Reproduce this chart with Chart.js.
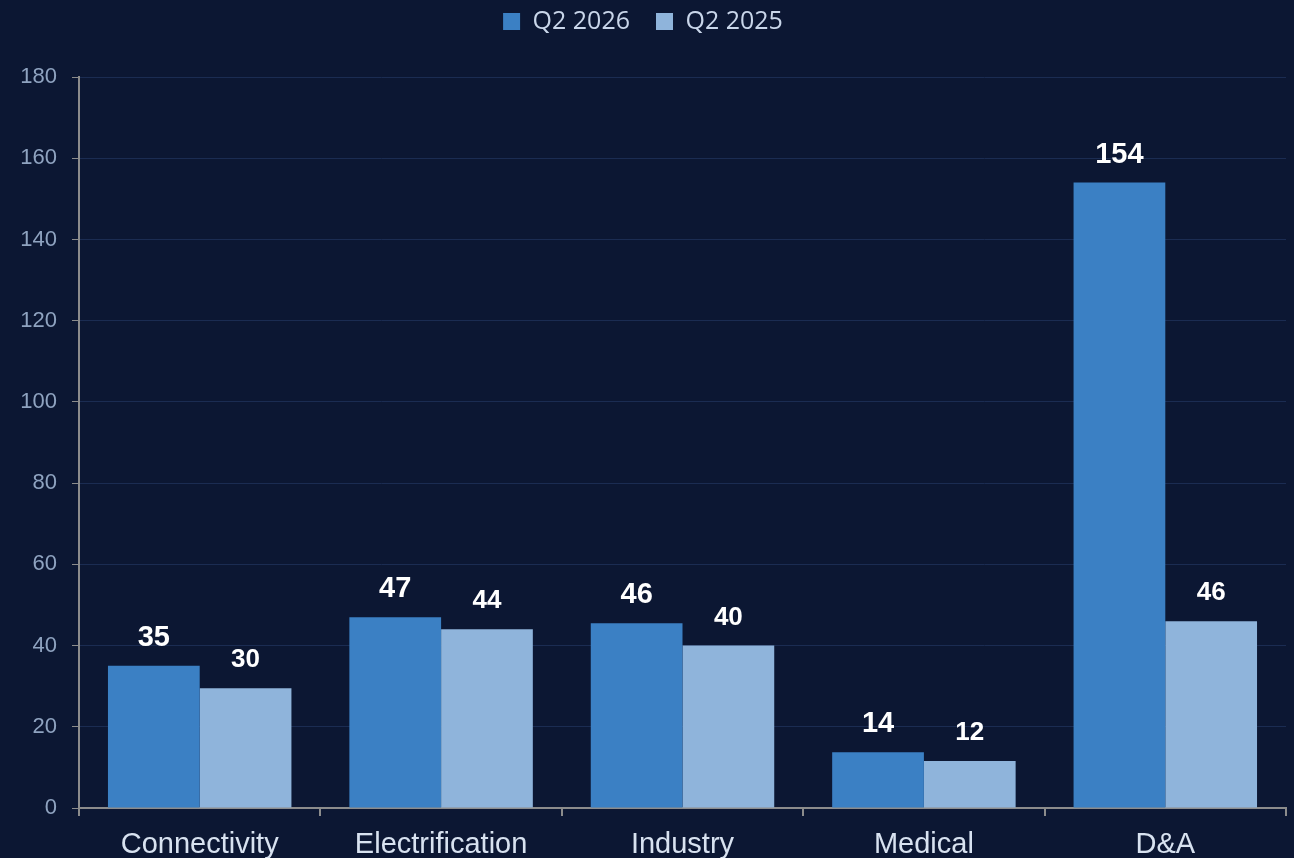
<!DOCTYPE html>
<html><head><meta charset="utf-8">
<script src="https://cdn.jsdelivr.net/npm/chart.js@4/dist/chart.umd.min.js"></script>
<style>
html,body{margin:0;padding:0;background:#0c1733;}
#wrap{width:1294px;height:858px;position:relative;}
</style></head>
<body><div id="wrap"><canvas id="c"></canvas></div>
<script>
const categories = ["Connectivity","Electrification","Industry","Medical","D&A"];
const seriesNames = ["Q2 2026","Q2 2025"];
const q2_2026 = [35, 47, 45.5, 13.7, 154];
const q2_2025 = [29.5, 44, 40, 11.6, 46];
const yTicks = [0,20,40,60,80,100,120,140,160,180];

const valueLabels = {
  id:'valueLabels',
  afterDatasetsDraw(chart){
    const ctx = chart.ctx;
    chart.data.datasets.forEach((ds,i)=>{
      const meta = chart.getDatasetMeta(i);
      ctx.save();
      ctx.fillStyle = '#ffffff';
      ctx.font = (i===0 ? 'bold 29px' : 'bold 26px') + ' "Liberation Sans", Arial, sans-serif';
      ctx.textAlign = 'center';
      ctx.textBaseline = 'middle';
      meta.data.forEach((bar,j)=>{
        ctx.fillText(Math.round(ds.data[j]).toString(), bar.x, bar.y - 28);
      });
      ctx.restore();
    });
  }
};
const legendHeight = {
  id:'legendHeight',
  beforeInit(chart){
    const fit = chart.legend.fit;
    chart.legend.fit = function(){ fit.bind(chart.legend)(); this.height = 94; };
  }
};

new Chart(document.getElementById('c'), {
  type:'bar',
  data:{
    labels:categories,
    datasets:[
      {label:seriesNames[0], data:q2_2026, backgroundColor:'#3b80c4', borderWidth:0},
      {label:seriesNames[1], data:q2_2025, backgroundColor:'#8fb4db', borderWidth:0}
    ]
  },
  options:{
    responsive:true, maintainAspectRatio:false, animation:false,
    layout:{padding:{left:0,right:8,top:-17,bottom:0}},
    datasets:{bar:{categoryPercentage:0.76, barPercentage:1.0}},
    plugins:{
      legend:{
        position:'top',
        labels:{color:'#c9d6ea', font:{family:'"Open Sans", sans-serif', size:25}, boxWidth:17, boxHeight:17, padding:26}
      },
      tooltip:{enabled:false}
    },
    scales:{
      x:{
        grid:{display:true, drawOnChartArea:false, drawTicks:true, tickLength:8, tickColor:'#8c8c8c', offset:true, lineWidth:2},
        border:{display:true, color:'#8c8c8c', width:2},
        ticks:{color:'#d8e2f0', font:{family:'"Liberation Sans", Arial, sans-serif', size:29}, padding:12},
        afterFit(s){ s.height = 50; }
      },
      y:{
        min:0, max:180,
        afterBuildTicks(s){ s.ticks = yTicks.map(v=>({value:v})); },
        grid:{color:'#1b2c52', lineWidth:1, drawTicks:true, tickLength:7, tickColor:'#8c8c8c'},
        border:{display:true, color:'#8c8c8c', width:2},
        ticks:{color:'#8fa3c0', font:{family:'"Liberation Sans", Arial, sans-serif', size:22}, padding:15},
        afterFit(s){ s.width = 79; }
      }
    }
  },
  plugins:[valueLabels, legendHeight]
});
</script></body></html>
